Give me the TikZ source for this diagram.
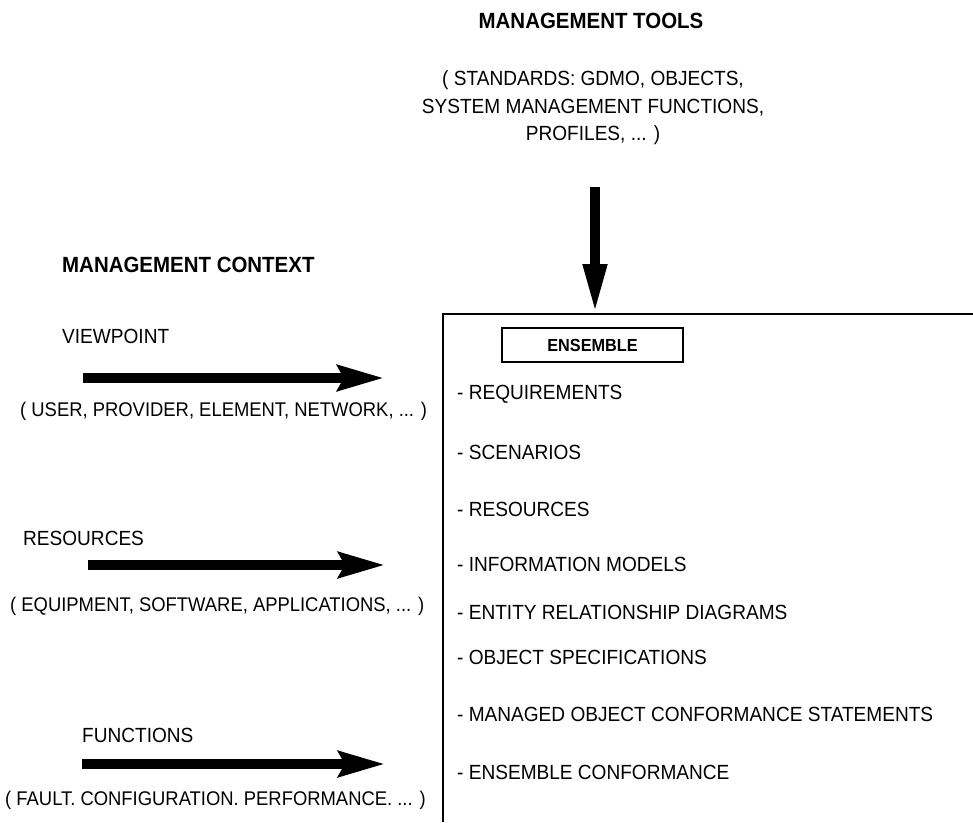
\documentclass[tikz,border=0pt]{standalone}
\usepackage{fontspec}
\setmainfont[FakeStretch=0.93]{Liberation Sans}
\usetikzlibrary{arrows.meta}
\begin{document}
\begin{tikzpicture}[x=1pt,y=-1pt,
  txt/.style={font=\fontsize{20.5}{22}\selectfont, inner sep=0pt, anchor=west},
  ltxt/.style={font=\fontsize{19.8}{22}\selectfont, inner sep=0pt, anchor=west},
  ctxt/.style={font=\fontsize{20.5}{22}\selectfont, inner sep=0pt},
  head/.style={font=\fontsize{22}{24}\selectfont\bfseries, inner sep=0pt},
  bigarrow/.style={line width=10pt, -{Stealth[length=46pt,width=25pt,inset=6pt]}},
  vertarrow/.style={line width=10pt, -{Triangle[length=50pt,width=22pt]}},
  frame/.style={line width=1.5pt},
  ensbox/.style={draw, line width=1.3pt, minimum width=181pt, minimum height=34pt,
    font=\fontsize{17.5}{19}\selectfont\bfseries, inner sep=0pt}
  ]
\useasboundingbox (0,0) rectangle (973,822);

% management tools
\node[head] (mt) at (591,21) {MANAGEMENT TOOLS};
\node[ctxt] (std1) at (593,80) {( STANDARDS: GDMO, OBJECTS,};
\node[ctxt] (std2) at (593,108) {SYSTEM MANAGEMENT FUNCTIONS,};
\node[ctxt] (std3) at (593,135) {PROFILES, ... )};

% ensemble frame
\coordinate (bl) at (443,822);
\coordinate (tl) at (443,314);
\coordinate (tr) at (973,314);
\coordinate (tin) at (595,314);
\draw[frame] (bl) -- (tl) -- (tr);

% vertical arrow
\coordinate (vs) at (595,187);
\draw[vertarrow] (vs) -- (tin);

\node[ensbox] (ens) at (592.5,345) {ENSEMBLE};

% list
\node[txt] (r1) at (457,394) {- REQUIREMENTS};
\node[txt] (r2) at (457,452) {- SCENARIOS};
\node[txt] (r3) at (457,509) {- RESOURCES};
\node[txt] (r4) at (457,564) {- INFORMATION MODELS};
\node[txt] (r5) at (457,612) {- ENTITY RELATIONSHIP DIAGRAMS};
\node[txt] (r6) at (457,657) {- OBJECT SPECIFICATIONS};
\node[txt] (r7) at (457,714) {- MANAGED OBJECT CONFORMANCE STATEMENTS};
\node[txt] (r8) at (457,772) {- ENSEMBLE CONFORMANCE};

% management context
\node[head, anchor=west] (mc) at (62,265) {MANAGEMENT CONTEXT};

\node[txt] (vp) at (62,336) {VIEWPOINT};
\coordinate (a1s) at (83,378);
\coordinate (a1e) at (384,378);
\draw[bigarrow] (a1s) -- (a1e);
\node[ltxt] (vpl) at (20,411) {( USER, PROVIDER, ELEMENT, NETWORK, ... )};

\node[txt] (rs) at (23,538) {RESOURCES};
\coordinate (a2s) at (88,565);
\coordinate (a2e) at (385,565);
\draw[bigarrow] (a2s) -- (a2e);
\node[ltxt] (rsl) at (10,606) {( EQUIPMENT, SOFTWARE, APPLICATIONS, ... )};

\node[txt] (fn) at (82,735) {FUNCTIONS};
\coordinate (a3s) at (82,764);
\coordinate (a3e) at (385,764);
\draw[bigarrow] (a3s) -- (a3e);
\node[ltxt] (fnl) at (5,800) {( FAULT. CONFIGURATION. PERFORMANCE. ... )};
\end{tikzpicture}
\end{document}
